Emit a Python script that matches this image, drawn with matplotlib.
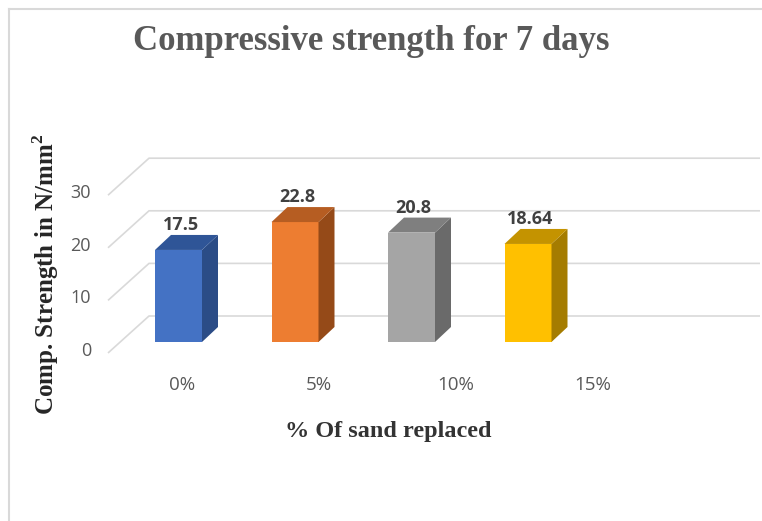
import numpy as np
import matplotlib
matplotlib.use("Agg")
import matplotlib.pyplot as plt
from matplotlib.patches import Polygon
from matplotlib.lines import Line2D

# data
categories = ["0%", "5%", "10%", "15%"]
strength = [17.5, 22.8, 20.8, 18.64]
value_labels = ["17.5", "22.8", "20.8", "18.64"]
yticks = [0, 10, 20, 30]

front_colors = ["#4472C4", "#ED7D31", "#A5A5A5", "#FFC000"]
top_colors = ["#2F5597", "#B65D22", "#7F7F7F", "#C49300"]
side_colors = ["#2B4C86", "#954A18", "#6A6A6A", "#A57C00"]

W, H = 762, 521
px_x = 116.5      # pixels per category
px_y = 5.26       # pixels per unit value
x0_px, y0_px = 178.5, 342   # first bar centre / bar base in pixels

fig = plt.figure(figsize=(W / 100, H / 100), dpi=100)
ax = fig.add_axes([0, 0, 1, 1])
ax.set_xlim(-x0_px / px_x, (W - x0_px) / px_x)
ax.set_ylim(-(H - y0_px) / px_y, y0_px / px_y)
ax.axis("off")

# oblique depth offsets (data units)
bar_dx, bar_dy = 16 / px_x, 15 / px_y
front_x, front_dy = (108 - x0_px) / px_x, -11 / px_y
back_x, back_dy = (149 - x0_px) / px_x, 26 / px_y
right_x = (760 - x0_px) / px_x

grid_c = "#D9D9D9"
for v in yticks:
    ax.plot([front_x, back_x, right_x], [v + front_dy, v + back_dy, v + back_dy],
            color=grid_c, lw=1.2, zorder=1, solid_capstyle="butt")
    ax.text(front_x - 17 / px_x, v + front_dy + 2 / px_y, str(v), ha="right", va="center",
            fontsize=13, color="#595959", family="Open Sans")

# bars
x = np.arange(len(strength))
w = 47 / px_x
ax.bar(x, strength, width=w, color=front_colors, zorder=3)
for xi, v, tc, sc, lab in zip(x, strength, top_colors, side_colors, value_labels):
    l, r = xi - w / 2, xi + w / 2
    side = Polygon([(r, 0), (r + bar_dx, bar_dy), (r + bar_dx, v + bar_dy), (r, v)],
                   closed=True, facecolor=sc, edgecolor="none", zorder=3)
    top = Polygon([(l, v), (l + bar_dx, v + bar_dy), (r + bar_dx, v + bar_dy), (r, v)],
                  closed=True, facecolor=tc, edgecolor="none", zorder=3)
    ax.add_patch(side)
    ax.add_patch(top)
    ax.text(xi + 2 / px_x, v + bar_dy + 1 / px_y, lab, ha="center", va="bottom",
            fontsize=13, fontweight="bold", color="#404040", family="Open Sans",
            zorder=4)

# category labels (spread wider than the bars, as in the original)
lab_x0, lab_step = (182 - x0_px) / px_x, 137 / px_x
for i, c in enumerate(categories):
    ax.text(lab_x0 + i * lab_step, -(385 - y0_px) / px_y, c, ha="center", va="center",
            fontsize=13.5, color="#595959", family="Open Sans")

# titles
fig.text(371 / W, 1 - 41 / H, "Compressive strength for 7 days", ha="center", va="center",
         fontsize=25, fontweight="bold", color="#595959", family="Liberation Serif")
fig.text(388 / W, 1 - 431 / H, "% Of sand replaced", ha="center", va="center",
         fontsize=17.5, fontweight="bold", color="#333333", family="Liberation Serif")
fig.text(46 / W, 1 - 274 / H, "Comp. Strength in N/mm$^\\mathregular{2}$", ha="center",
         va="center", rotation=90, fontsize=18, fontweight="bold", color="#262626",
         family="Liberation Serif")

# chart area border
fig.add_artist(Line2D([8.5 / W, 8.5 / W], [0, 1 - 8.5 / H], transform=fig.transFigure,
                      color=grid_c, lw=1.5))
fig.add_artist(Line2D([8.5 / W, 1], [1 - 8.5 / H, 1 - 8.5 / H], transform=fig.transFigure,
                      color=grid_c, lw=1.5))

fig.savefig("out.png", dpi=100)
